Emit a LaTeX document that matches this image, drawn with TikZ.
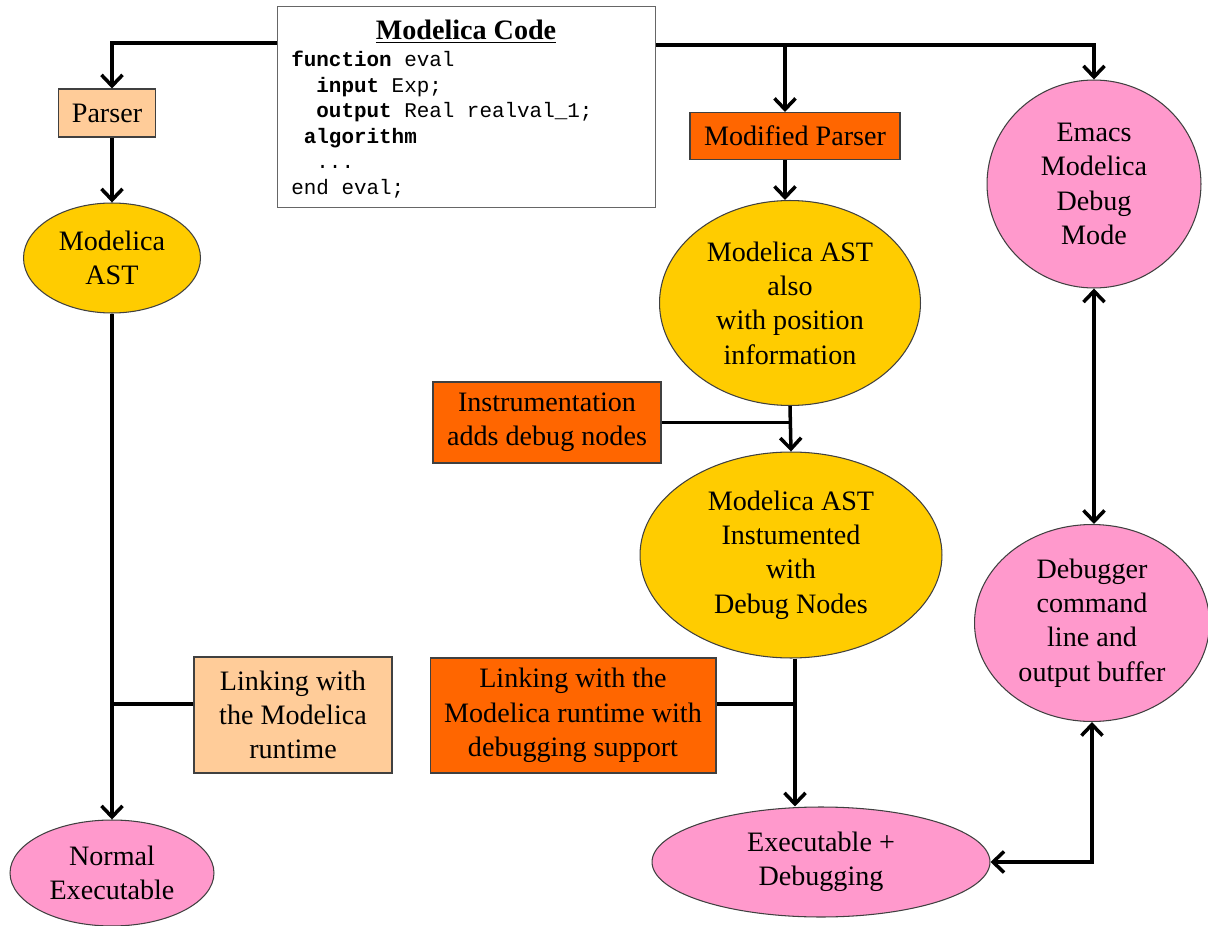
\documentclass[tikz,border=0pt]{standalone}
\usepackage{fontspec}
\setmainfont{Liberation Serif}
\setmonofont{Liberation Mono}
\usetikzlibrary{arrows.meta,positioning,shapes.geometric}
\definecolor{stepLight}{HTML}{FFCC99}
\definecolor{stepHot}{HTML}{FF6600}
\definecolor{astFill}{HTML}{FFCC00}
\definecolor{runFill}{HTML}{FF99CC}
\tikzset{
  box/.style={
    rectangle, draw=black!75, line width=0.6pt,
    align=center, inner sep=0pt,
    font=\fontsize{16}{19.5}\selectfont
  },
  plain/.style={box, fill=stepLight},
  hot/.style  ={box, fill=stepHot},
  blob/.style={
    ellipse, draw=black!75, line width=0.6pt,
    align=center, inner sep=0pt,
    font=\fontsize{16}{19.5}\selectfont
  },
  tree/.style={blob, fill=astFill},
  run/.style ={blob, fill=runFill},
  flow/.style={-{Straight Barb[length=2.2mm,width=4.2mm]}, line width=2pt},
  both/.style={{Straight Barb[length=2.2mm,width=4.2mm]}-{Straight Barb[length=2.2mm,width=4.2mm]}, line width=2pt},
  link/.style={line width=2pt},
  code/.style={font=\ttfamily\fontsize{11.9}{14.5}\selectfont, align=left, inner sep=0pt}
}

\begin{document}
\begin{tikzpicture}[x=0.02cm, y=-0.02cm]
  \useasboundingbox (0,0) rectangle (1208,926);

  % source code
  \node[box, draw=black!60, fill=white, minimum width=7.58cm, minimum height=4.02cm] (codebox) at (466.5,107) {};
  \node[font=\bfseries\fontsize{16}{19.5}\selectfont, inner sep=0pt] (codetitle) at (466,32) {\underline{Modelica Code}};
  \node[code, anchor=north west] (codetext) at (291,51)
    {\textbf{function} eval\\
     \phantom{xx}\textbf{input} Exp;\\
     \phantom{xx}\textbf{output} Real realval\_1;\\
     \phantom{x}\textbf{algorithm}\\
     \phantom{xx}...\\
     end eval;};

  % normal compilation
  \node[plain, minimum width=1.94cm, minimum height=0.96cm] (parser) at (107,113) {Parser};
  \node[tree, minimum width=3.54cm, minimum height=2.2cm] (ast) at (112,258) {Modelica\\AST};
  \node[plain, minimum width=3.96cm, minimum height=2.32cm] (link) at (293,715) {Linking with\\the Modelica\\runtime};
  \node[run, minimum width=4.08cm, minimum height=2.12cm] (normexe) at (112,873) {Normal\\Executable};

  % debug compilation
  \node[hot, minimum width=4.2cm, minimum height=0.94cm] (modparser) at (795,136) {Modified Parser};
  \node[tree, minimum width=5.22cm, minimum height=4.1cm] (astpos) at (790,303) {Modelica AST\\also\\with position\\information};
  \node[hot, minimum width=4.56cm, minimum height=1.62cm] (instr) at (547,422.5) {Instrumentation\\adds debug nodes};
  \node[tree, minimum width=6.04cm, minimum height=4.12cm] (astdbg) at (791,555) {Modelica AST\\Instumented\\with\\Debug Nodes};
  \node[hot, minimum width=5.72cm, minimum height=2.3cm] (linkdbg) at (573,715.5) {Linking with the\\Modelica runtime with\\debugging support};
  \node[run, minimum width=6.76cm, minimum height=2.2cm] (exedbg) at (821,862) {Executable +\\Debugging};

  % emacs side
  \node[run, minimum width=4.28cm, minimum height=4.16cm] (emacs) at (1094,184) {Emacs\\Modelica\\Debug\\Mode};
  \node[run, minimum width=4.7cm, minimum height=3.94cm] (debugger) at (1092,623) {Debugger\\command\\line and\\output buffer};

  % arrows
  \coordinate (split) at (785,45);
  \coordinate (drop) at ([xshift=0.08cm]astdbg.south);
  \draw[flow] ([yshift=1.28cm]codebox.west) -| (ast.north |- parser.north);
  \draw[flow] ([yshift=1.24cm]codebox.east) -| (emacs.north);
  \draw[flow] (split) -- (split |- modparser.north);
  \draw[flow] (ast.north |- parser.south) -- (ast.north);
  \draw[flow] (ast.south) -- (ast.south |- normexe.north);
  \draw[link] ([yshift=0.22cm]link.west) -- ([yshift=0.22cm]link.west -| ast.south);
  \draw[flow] (split |- modparser.south) -- (split |- astpos.north);
  \draw[flow] (astpos.south) -- (astdbg.north);
  \draw[link] (instr.east) -- (instr.east -| astpos.south);
  \draw[flow] (drop) -- (drop |- exedbg.north);
  \draw[link] ([yshift=0.23cm]linkdbg.east) -- ([yshift=0.23cm]linkdbg.east -| drop);
  \draw[both] (emacs.south) -- (emacs.south |- debugger.north);
  \draw[both] (debugger.south) |- (exedbg.east);
\end{tikzpicture}
\end{document}
